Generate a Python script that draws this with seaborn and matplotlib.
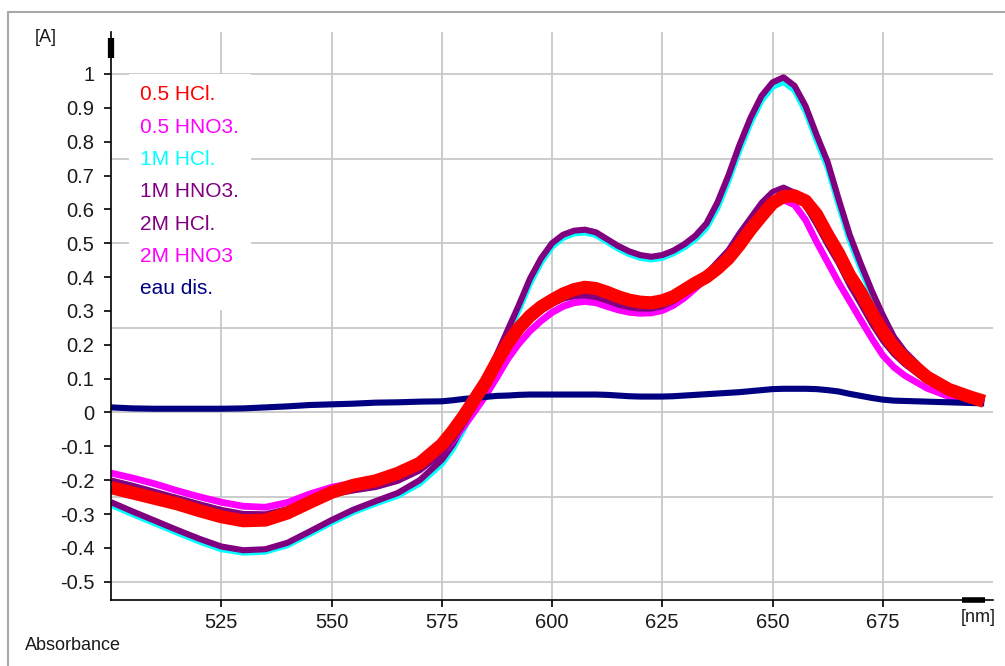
import matplotlib
matplotlib.use("Agg")
import matplotlib.pyplot as plt
from matplotlib.lines import Line2D
import pandas as pd
import seaborn as sns

# Wavelength grid (nm) shared by all spectra
wavelength = [500, 505, 510, 515, 520, 525, 530, 535, 540, 545, 550, 555, 560, 565, 570, 575,
              577.5, 580, 582.5, 585, 587.5, 590, 592.5, 595, 597.5, 600, 602.5, 605, 607.5, 610,
              612.5, 615, 617.5, 620, 622.5, 625, 627.5, 630, 632.5, 635, 637.5, 640, 642.5, 645,
              647.5, 650, 652.5, 655, 657.5, 660, 662.5, 665, 667.5, 670, 672.5, 675, 677.5, 680,
              685, 690, 695, 698]

# Absorbance [A] of each solution
hcl_05 = [-0.222, -0.238, -0.254, -0.270, -0.290, -0.308, -0.320, -0.318, -0.297, -0.266,
          -0.236, -0.215, -0.202, -0.180, -0.150, -0.095,
          -0.055, -0.010, 0.040, 0.090, 0.150, 0.205, 0.250, 0.285, 0.312, 0.332, 0.350, 0.363,
          0.370, 0.366, 0.355, 0.342, 0.332, 0.326, 0.324, 0.330, 0.342, 0.362, 0.382, 0.400,
          0.425, 0.455, 0.495, 0.540, 0.580, 0.618, 0.638, 0.640, 0.625, 0.585, 0.525, 0.470,
          0.405, 0.355, 0.295, 0.240, 0.195, 0.160, 0.105, 0.068, 0.045, 0.033]

hno3_05 = [-0.178, -0.193, -0.210, -0.230, -0.248, -0.264, -0.276, -0.279, -0.265, -0.240,
           -0.220, -0.207, -0.197, -0.183, -0.160, -0.118,
           -0.082, -0.040, 0.005, 0.052, 0.105, 0.160, 0.205, 0.242, 0.272, 0.297, 0.315, 0.326,
           0.330, 0.326, 0.315, 0.305, 0.298, 0.295, 0.296, 0.303, 0.318, 0.340, 0.368, 0.398,
           0.430, 0.468, 0.512, 0.555, 0.595, 0.622, 0.630, 0.615, 0.570, 0.505, 0.445, 0.385,
           0.330, 0.275, 0.220, 0.170, 0.135, 0.110, 0.072, 0.047, 0.035, 0.030]

hcl_1m = [-0.273, -0.301, -0.328, -0.355, -0.381, -0.404, -0.414, -0.411, -0.392, -0.359,
          -0.325, -0.294, -0.269, -0.246, -0.210, -0.152,
          -0.108, -0.049, 0.016, 0.086, 0.158, 0.231, 0.304, 0.381, 0.443, 0.490, 0.516, 0.529,
          0.532, 0.524, 0.504, 0.484, 0.468, 0.457, 0.452, 0.457, 0.470, 0.488, 0.512, 0.545,
          0.604, 0.684, 0.774, 0.855, 0.921, 0.962, 0.976, 0.952, 0.890, 0.805, 0.724, 0.614,
          0.509, 0.426, 0.347, 0.275, 0.212, 0.171, 0.108, 0.072, 0.047, 0.038]

hno3_1m = [-0.265, -0.293, -0.320, -0.347, -0.373, -0.396, -0.407, -0.404, -0.385, -0.352,
           -0.318, -0.287, -0.262, -0.238, -0.200, -0.140,
           -0.095, -0.035, 0.030, 0.100, 0.172, 0.245, 0.318, 0.395, 0.455, 0.500, 0.525, 0.537,
           0.540, 0.532, 0.512, 0.492, 0.476, 0.465, 0.460, 0.465, 0.478, 0.497, 0.522, 0.558,
           0.620, 0.700, 0.790, 0.870, 0.935, 0.975, 0.990, 0.965, 0.905, 0.820, 0.740, 0.630,
           0.525, 0.440, 0.360, 0.288, 0.224, 0.180, 0.115, 0.077, 0.050, 0.040]

hcl_2m = [-0.200, -0.216, -0.234, -0.252, -0.270, -0.287, -0.299, -0.300, -0.285, -0.262,
          -0.243, -0.231, -0.221, -0.203, -0.172, -0.122,
          -0.082, -0.033, 0.020, 0.075, 0.135, 0.190, 0.235, 0.272, 0.300, 0.320, 0.335, 0.343,
          0.345, 0.340, 0.330, 0.318, 0.310, 0.306, 0.306, 0.313, 0.328, 0.350, 0.378, 0.410,
          0.445, 0.480, 0.530, 0.575, 0.620, 0.652, 0.665, 0.650, 0.610, 0.555, 0.495, 0.440,
          0.375, 0.320, 0.262, 0.212, 0.172, 0.142, 0.093, 0.061, 0.041, 0.032]

hno3_2m = [-0.180, -0.195, -0.212, -0.232, -0.250, -0.266, -0.278, -0.281, -0.267, -0.242,
           -0.222, -0.209, -0.199, -0.185, -0.162, -0.121,
           -0.085, -0.043, 0.002, 0.049, 0.102, 0.157, 0.202, 0.239, 0.269, 0.294, 0.312, 0.323,
           0.327, 0.323, 0.312, 0.302, 0.295, 0.292, 0.293, 0.300, 0.315, 0.337, 0.365, 0.395,
           0.427, 0.465, 0.509, 0.552, 0.592, 0.619, 0.627, 0.612, 0.567, 0.502, 0.442, 0.382,
           0.327, 0.272, 0.218, 0.168, 0.133, 0.108, 0.071, 0.046, 0.034, 0.030]

eau_dis = [0.015, 0.012, 0.011, 0.011, 0.011, 0.011, 0.012, 0.015, 0.018, 0.022, 0.024, 0.026,
           0.029, 0.030, 0.032, 0.033,
           0.036, 0.040, 0.043, 0.046, 0.049, 0.050, 0.052, 0.053, 0.053, 0.053, 0.053, 0.053,
           0.053, 0.053, 0.052, 0.050, 0.048, 0.047, 0.047, 0.047, 0.048, 0.050, 0.052, 0.054,
           0.056, 0.058, 0.060, 0.063, 0.066, 0.069, 0.070, 0.070, 0.070, 0.069, 0.066, 0.062,
           0.055, 0.049, 0.043, 0.038, 0.035, 0.034, 0.032, 0.030, 0.028, 0.027]

series_names = ["0.5 HCl.", "0.5 HNO3.", "1M HCl.", "1M HNO3.", "2M HCl.", "2M HNO3", "eau dis."]
series_values = [hcl_05, hno3_05, hcl_1m, hno3_1m, hcl_2m, hno3_2m, eau_dis]
series_colors = ["#ff0000", "#ff00ff", "#00ffff", "#800080", "#800080", "#ff00ff", "#000080"]
series_widths = [9.4, 4.4, 4.4, 4.4, 4.0, 4.4, 4.4]
draw_order = ["1M HCl.", "1M HNO3.", "2M HNO3", "0.5 HNO3.", "2M HCl.", "eau dis.", "0.5 HCl."]

x_ticks = [525, 550, 575, 600, 625, 650, 675]
y_ticks = [-0.5, -0.4, -0.3, -0.2, -0.1, 0.0, 0.1, 0.2, 0.3, 0.4, 0.5, 0.6, 0.7, 0.8, 0.9, 1.0]
y_tick_labels = ["-0.5", "-0.4", "-0.3", "-0.2", "-0.1", "0", "0.1", "0.2", "0.3", "0.4",
                 "0.5", "0.6", "0.7", "0.8", "0.9", "1"]
grid_levels = [-0.5, -0.25, 0.0, 0.25, 0.5, 0.75, 1.0]

df = pd.concat(
    [pd.DataFrame({"nm": wavelength, "A": vals, "solution": name})
     for name, vals in zip(series_names, series_values)],
    ignore_index=True,
)

sns.set_theme(style="white")
plt.rcParams["font.family"] = ["Liberation Sans", "DejaVu Sans"]

W, H = 1005, 666
fig = plt.figure(figsize=(W / 100, H / 100), dpi=100)
fig.patch.set_facecolor("white")
ax_l, ax_r, ax_t, ax_b = 111, 993, 32, 600
ax = fig.add_axes([ax_l / W, 1 - ax_b / H, (ax_r - ax_l) / W, (ax_b - ax_t) / H])
ax.set_facecolor("white")

grid_color = "#c8c8c8"
for x in x_ticks:
    ax.axvline(x, color=grid_color, lw=1.3, zorder=0.5)
for y in grid_levels:
    ax.axhline(y, color=grid_color, lw=1.3, zorder=0.5)

handles = {}
for name in draw_order:
    i = series_names.index(name)
    sns.lineplot(data=df[df["solution"] == name], x="nm", y="A", color=series_colors[i],
                 lw=series_widths[i], ax=ax, legend=False, estimator=None,
                 solid_capstyle="butt", solid_joinstyle="round")
    line = ax.lines[-1]
    line.set_label(name)
    handles[name] = line

ax.set_xlim(500, 700)
ax.set_ylim(-0.554, 1.124)
ax.set_xticks(x_ticks)
ax.set_xticklabels([str(v) for v in x_ticks])
ax.set_yticks(y_ticks)
ax.set_yticklabels(y_tick_labels)
ax.set_xlabel("")
ax.set_ylabel("")

for side in ("top", "right"):
    ax.spines[side].set_visible(False)
for side in ("left", "bottom"):
    ax.spines[side].set_color("black")
    ax.spines[side].set_linewidth(1.2)
ax.tick_params(axis="both", which="major", direction="out", length=5, width=1.2,
               color="black", labelsize=14.5, labelcolor="#1a1a1a",
               bottom=True, left=True)
ax.tick_params(axis="y", pad=7)
ax.tick_params(axis="x", pad=4)

# Arrow heads at the ends of the two axes
ax.plot([0, 0], [(ax_b - 58) / (ax_b - ax_t), (ax_b - 38) / (ax_b - ax_t)],
        transform=ax.transAxes, color="black", lw=4.5, solid_capstyle="butt", clip_on=False)
ax.plot([(962 - ax_l) / (ax_r - ax_l), (985 - ax_l) / (ax_r - ax_l)], [0, 0],
        transform=ax.transAxes, color="black", lw=4.0, solid_capstyle="butt", clip_on=False)

leg = ax.legend(
    handles=[handles[n] for n in series_names], labels=series_names,
    loc="upper left", bbox_to_anchor=(129 / W, 1 - 74 / H), bbox_transform=fig.transFigure,
    handlelength=0, handletextpad=0, borderpad=0.55, borderaxespad=0, labelspacing=0.64,
    frameon=True, fancybox=False, facecolor="white", edgecolor="none", framealpha=1,
    labelcolor=series_colors, fontsize=15,
)
for h in leg.legend_handles:
    h.set_visible(False)

fig.text(35 / W, 1 - 37 / H, "[A]", fontsize=13, color="#1a1a1a", ha="left", va="center")
fig.text(961 / W, 1 - 617 / H, "[nm]", fontsize=13, color="#1a1a1a", ha="left", va="center")
fig.text(25 / W, 1 - 645 / H, "Absorbance", fontsize=13, color="#1a1a1a", ha="left", va="center")

# Window frame
frame_color = "#a8a8a8"
fig.add_artist(Line2D([8 / W, 1], [1 - 12 / H, 1 - 12 / H], color=frame_color, lw=1.5,
                      transform=fig.transFigure))
fig.add_artist(Line2D([8 / W, 8 / W], [0, 1 - 12 / H], color=frame_color, lw=1.5,
                      transform=fig.transFigure))

fig.savefig("out.png", dpi=100, facecolor="white")
